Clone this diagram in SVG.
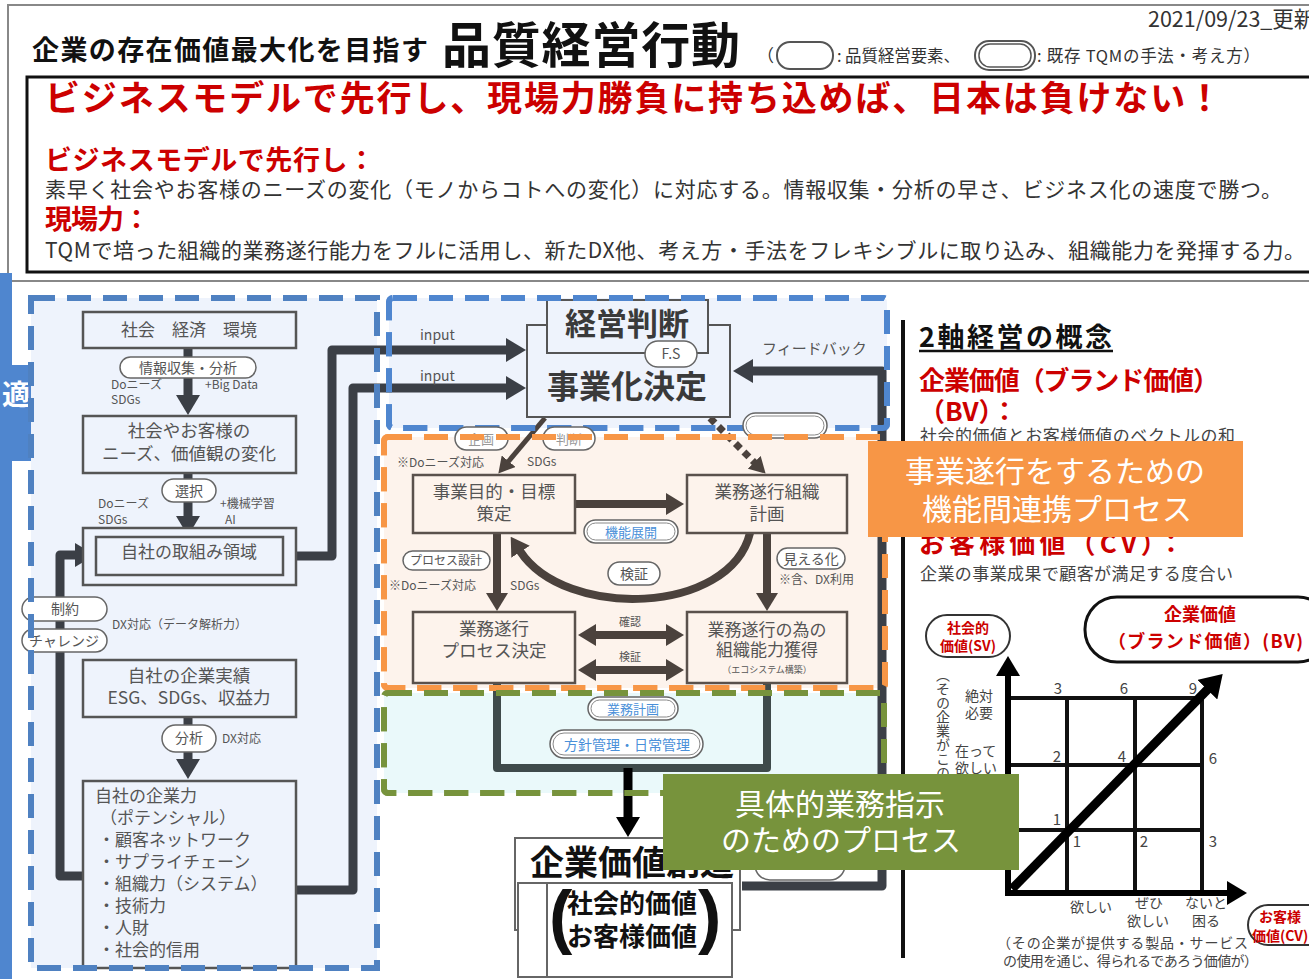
<svg xmlns="http://www.w3.org/2000/svg" width="1309" height="979" viewBox="0 0 1309 979">
<style>
text{font-family:"Noto Sans CJK JP","Noto Sans",sans-serif}
.g{fill:#555}
.c{text-anchor:middle}
.red{fill:#cc0000;font-weight:bold}
.bx{fill:#eef3fc;stroke:#555;stroke-width:2.5}
.ob{fill:#fdf3ec;stroke:#5a514c;stroke-width:2.5}
.pill{fill:#fff;stroke:#666;stroke-width:1.5}
.dl{fill:none;stroke:#3b3f46;stroke-width:9;stroke-linejoin:round}
.br{fill:none;stroke:#4b423d;stroke-width:8;stroke-linejoin:round}
.bk{fill:none;stroke:#000;stroke-width:6}
.grid{stroke:#111;stroke-width:4}
.blue{fill:#4a90d9}
.wt{fill:#fff;font-size:30px;text-anchor:middle}
</style>
<defs>
<marker id="mL" viewBox="0 0 20 24" refX="1" refY="12" markerWidth="20" markerHeight="24" markerUnits="userSpaceOnUse" orient="auto"><path d="M0,0 L20,12 L0,24z" fill="#3b3f46"/></marker>
<marker id="mB" viewBox="0 0 18 22" refX="1" refY="11" markerWidth="18" markerHeight="22" markerUnits="userSpaceOnUse" orient="auto-start-reverse"><path d="M0,0 L18,11 L0,22z" fill="#4b423d"/></marker>
<marker id="mBs" viewBox="0 0 16 18" refX="1" refY="9" markerWidth="16" markerHeight="18" markerUnits="userSpaceOnUse" orient="auto"><path d="M0,0 L16,9 L0,18z" fill="#4b423d"/></marker>
<marker id="mK" viewBox="0 0 20 24" refX="1" refY="12" markerWidth="20" markerHeight="24" markerUnits="userSpaceOnUse" orient="auto"><path d="M0,0 L20,12 L0,24z" fill="#000"/></marker>
<marker id="mKd" viewBox="0 0 22 28" refX="1" refY="14" markerWidth="22" markerHeight="28" markerUnits="userSpaceOnUse" orient="auto"><path d="M0,0 L22,14 L0,28z" fill="#000"/></marker>
<marker id="mS" viewBox="0 0 10 12" refX="1" refY="6" markerWidth="10" markerHeight="12" markerUnits="userSpaceOnUse" orient="auto"><path d="M0,0 L10,6 L0,12z" fill="#3b3f46"/></marker>
</defs>
<rect width="1309" height="979" fill="#fff"/>

<!-- header -->
<g id="header">
<rect x="8" y="5" width="1310" height="276" fill="#fff" stroke="#888" stroke-width="2"/>
<text x="32" y="60" font-size="27" font-weight="bold" fill="#111" textLength="396">企業の存在価値最大化を目指す</text>
<text x="442" y="63" font-size="49" font-weight="bold" fill="#111" textLength="298">品質経営行動</text>
<text x="757" y="62" font-size="17" fill="#333">（</text>
<rect x="777" y="42" width="56" height="27" rx="13" fill="#fff" stroke="#555" stroke-width="2"/>
<text x="837" y="62" font-size="16.5" fill="#333" textLength="123">: 品質経営要素、</text>
<rect x="975" y="41" width="60" height="29" rx="14" fill="#fff" stroke="#555" stroke-width="2"/>
<rect x="979" y="44" width="52" height="23" rx="11" fill="none" stroke="#555" stroke-width="1.5"/>
<text x="1037" y="62" font-size="16.5" fill="#333" textLength="223">: 既存 TQMの手法・考え方）</text>
<text x="1148" y="27" font-size="21.5" fill="#333">2021/09/23_更新</text>
</g>

<g id="message">
<rect x="27" y="77" width="1290" height="195" fill="#fff" stroke="#111" stroke-width="3"/>
<text x="45" y="111" font-size="35" class="red" textLength="1177">ビジネスモデルで先行し、現場力勝負に持ち込めば、日本は負けない！</text>
<text x="45" y="170" font-size="27" class="red" textLength="330">ビジネスモデルで先行し：</text>
<text x="45" y="197" font-size="21" fill="#333" textLength="1237">素早く社会やお客様のニーズの変化（モノからコトへの変化）に対応する。情報収集・分析の早さ、ビジネス化の速度で勝つ。</text>
<text x="45" y="229" font-size="27" class="red" textLength="105">現場力：</text>
<text x="45" y="258" font-size="21" fill="#333" textLength="1260">TQMで培った組織的業務遂行能力をフルに活用し、新たDX他、考え方・手法をフレキシブルに取り込み、組織能力を発揮する力。</text>
</g>

<!-- left tab -->
<g id="tab">
<rect x="0" y="273" width="12" height="706" fill="#4f86cf"/>
<rect x="0" y="365" width="89" height="96" fill="#4f86cf"/>
<text x="2" y="405" font-size="28" font-weight="bold" fill="#fff">適</text>
</g>

<!-- regions -->
<g id="regions">
<rect x="31" y="298" width="346" height="670" fill="#eef3fc" stroke="#4f81c1" stroke-width="6" stroke-dasharray="24 12"/>
<rect x="389" y="298" width="498" height="130" rx="4" fill="#eef3fc" stroke="#4f86cf" stroke-width="6" stroke-dasharray="24 12"/>
<rect x="384" y="437" width="501" height="251" rx="4" fill="#fdf3ec" stroke="#f79646" stroke-width="6" stroke-dasharray="24 12"/>
<rect x="384" y="693" width="500" height="100" rx="4" fill="#eaf9fa" stroke="#77933c" stroke-width="6" stroke-dasharray="24 12"/>
</g>

<!-- connectors -->
<g id="connectors">
<path class="dl" d="M188,348 V396" marker-end="url(#mL)"/>
<path class="dl" d="M188,473 V517" marker-end="url(#mL)"/>
<path class="dl" d="M296,556 H332 V350 H507" marker-end="url(#mL)"/>
<path class="dl" d="M296,890 H353 V388 H507" marker-end="url(#mL)"/>
<path class="dl" d="M83,876 H60 V555 H76" marker-end="url(#mL)"/>
<path class="dl" d="M188,717 V760" marker-end="url(#mL)"/>
<path class="dl" d="M742,886 H882 V371 H752" marker-end="url(#mL)"/>
<path fill="none" stroke="#3b3f46" stroke-width="4" d="M627,353 V362" marker-end="url(#mS)"/>
<path fill="none" stroke="#4b423d" stroke-width="5" d="M545,418 L508,462" marker-end="url(#mBs)"/>
<path fill="none" stroke="#4b423d" stroke-width="7" stroke-dasharray="7 5" d="M710,418 L755,463" marker-end="url(#mBs)"/>
<path class="br" d="M575,504 H667" marker-end="url(#mB)"/>
<path class="br" d="M750,533 C730,615 565,620 520,551" marker-end="url(#mB)"/>
<path class="br" d="M497,533 V594" marker-end="url(#mB)"/>
<path class="br" d="M767,533 V594" marker-end="url(#mB)"/>
<path class="br" stroke-width="7" d="M595,635 H667" marker-start="url(#mB)" marker-end="url(#mB)"/>
<path class="br" stroke-width="7" d="M595,670 H667" marker-start="url(#mB)" marker-end="url(#mB)"/>
<path fill="none" stroke="#3f4b4b" stroke-width="8" stroke-linejoin="round" d="M497,683 V768 H767 V683"/>
<path fill="none" stroke="#000" stroke-width="9" d="M628,768 V818" marker-end="url(#mK)"/>
</g>

<!-- left column nodes -->
<g id="n-env">
<rect class="bx" x="83" y="312" width="213" height="36"/>
<text class="g c" x="189" y="336" font-size="17">社会　経済　環境</text>
</g>
<g id="p-info">
<rect class="pill" x="120" y="357" width="136" height="21" rx="10.5"/>
<text class="g c" x="188" y="373" font-size="14">情報収集・分析</text>
<text class="g" x="111" y="389" font-size="12">Doニーズ</text>
<text class="g" x="111" y="404" font-size="12">SDGs</text>
<text class="g" x="205" y="389" font-size="12">+Big Data</text>
</g>
<g id="n-needs">
<rect class="bx" x="83" y="416" width="213" height="57"/>
<text class="g c" x="189" y="437" font-size="17.5">社会やお客様の</text>
<text class="g c" x="189" y="460" font-size="17.5">ニーズ、価値観の変化</text>
</g>
<g id="p-select">
<rect class="pill" x="162" y="479" width="54" height="23" rx="11.5"/>
<text class="g c" x="189" y="496" font-size="14">選択</text>
<text class="g" x="98" y="508" font-size="12">Doニーズ</text>
<text class="g" x="98" y="524" font-size="12">SDGs</text>
<text class="g" x="220" y="508" font-size="12">+機械学習</text>
<text class="g" x="225" y="524" font-size="12">AI</text>
</g>
<g id="n-area">
<rect class="bx" x="83" y="528" width="213" height="57"/>
<rect class="bx" x="96" y="537" width="187" height="38"/>
<text class="g c" x="189" y="558" font-size="17">自社の取組み領域</text>
</g>
<g id="p-limit">
<rect class="pill" x="22" y="597" width="85" height="24" rx="12"/>
<text class="g c" x="65" y="614" font-size="14">制約</text>
<rect class="pill" x="22" y="629" width="85" height="23" rx="11.5"/>
<text class="g c" x="64" y="646" font-size="14">チャレンジ</text>
<text class="g" x="112" y="629" font-size="12">DX対応（データ解析力）</text>
</g>
<g id="n-result">
<rect class="bx" x="83" y="660" width="213" height="57"/>
<text class="g c" x="189" y="682" font-size="17.5">自社の企業実績</text>
<text class="g c" x="189" y="704" font-size="17.5">ESG、SDGs、収益力</text>
</g>
<g id="p-analyze">
<rect class="pill" x="162" y="725" width="54" height="27" rx="13.5"/>
<text class="g c" x="189" y="743" font-size="14">分析</text>
<text class="g" x="222" y="743" font-size="12">DX対応</text>
</g>
<g id="n-power">
<rect class="bx" x="83" y="781" width="213" height="187"/>
<text class="g" x="95" y="802" font-size="17">自社の企業力</text>
<text class="g" x="100" y="824" font-size="17">（ポテンシャル）</text>
<text class="g" x="98" y="846" font-size="17">・顧客ネットワーク</text>
<text class="g" x="98" y="868" font-size="17">・サプライチェーン</text>
<text class="g" x="98" y="890" font-size="17">・組織力（システム）</text>
<text class="g" x="98" y="912" font-size="17">・技術力</text>
<text class="g" x="98" y="934" font-size="17">・人財</text>
<text class="g" x="98" y="956" font-size="17">・社会的信用</text>
</g>
<rect x="31" y="298" width="346" height="670" fill="none" stroke="#4f81c1" stroke-width="6" stroke-dasharray="24 12"/>

<!-- center top -->
<g id="n-decide">
<text class="g" x="420" y="340" font-size="14">input</text>
<text class="g" x="420" y="381" font-size="14">input</text>
<rect x="527" y="325" width="203" height="92" fill="#eef3fc" stroke="#555" stroke-width="2"/>
<rect x="547" y="300" width="161" height="53" fill="#eef3fc" stroke="#555" stroke-width="2"/>
<text class="c" x="627" y="335" font-size="31" font-weight="bold" fill="#3a3a3a">経営判断</text>
<text class="c" x="627" y="398" font-size="32" font-weight="bold" fill="#3a3a3a">事業化決定</text>
<rect class="pill" x="645" y="341" width="52" height="26" rx="13"/>
<text class="g c" x="671" y="359" font-size="14">F.S</text>
<text class="g" x="762" y="354" font-size="15">フィードバック</text>
</g>
<rect x="389" y="298" width="498" height="130" rx="4" fill="none" stroke="#4f86cf" stroke-width="6" stroke-dasharray="24 12"/>
<g id="p-top">
<rect class="pill" x="455" y="427" width="53" height="23" rx="11.5" fill="#fdf3ec"/>
<text class="c" x="481" y="444" font-size="13" fill="#999">企画</text>
<rect class="pill" x="543" y="427" width="52" height="23" rx="11.5" fill="#fdf3ec"/>
<text class="c" x="569" y="444" font-size="13" fill="#999">判断</text>
<rect class="pill" x="743" y="413" width="84" height="25" rx="12.5" fill="#fdf3ec"/>
<rect x="746" y="416" width="78" height="19" rx="9.5" fill="none" stroke="#888" stroke-width="1"/>
<text class="g" x="397" y="467" font-size="12">※Doニーズ対応</text>
<text class="g" x="527" y="466" font-size="12">SDGs</text>
</g>
<rect x="384" y="437" width="501" height="251" rx="4" fill="none" stroke="#f79646" stroke-width="6" stroke-dasharray="24 12"/>

<!-- orange region nodes -->
<g id="n-purpose">
<rect class="ob" x="413" y="475" width="162" height="58"/>
<text class="g c" x="494" y="498" font-size="17.5">事業目的・目標</text>
<text class="g c" x="494" y="520" font-size="17.5">策定</text>
</g>
<g id="n-org">
<rect class="ob" x="687" y="475" width="160" height="58"/>
<text class="g c" x="767" y="498" font-size="17.5">業務遂行組織</text>
<text class="g c" x="767" y="520" font-size="17.5">計画</text>
</g>
<g id="n-process">
<rect class="ob" x="413" y="612" width="162" height="71"/>
<text class="g c" x="494" y="635" font-size="17.5">業務遂行</text>
<text class="g c" x="494" y="657" font-size="17.5">プロセス決定</text>
</g>
<g id="n-capability">
<rect class="ob" x="687" y="612" width="160" height="71"/>
<text class="g c" x="767" y="636" font-size="17">業務遂行の為の</text>
<text class="g c" x="767" y="656" font-size="17">組織能力獲得</text>
<text class="g c" x="767" y="673" font-size="9">（エコシステム構築）</text>
</g>
<g id="p-orange">
<rect class="pill" x="584" y="520" width="94" height="23" rx="11.5"/>
<rect x="587" y="523" width="88" height="17" rx="8.5" fill="none" stroke="#888" stroke-width="1"/>
<text class="blue c" x="631" y="537" font-size="13">機能展開</text>
<rect class="pill" x="608" y="562" width="52" height="23" rx="11.5" fill="#fdf3ec"/>
<text class="g c" x="634" y="579" font-size="14">検証</text>
<rect class="pill" x="403" y="551" width="87" height="19" rx="9.5" fill="#fdf3ec"/>
<text class="g c" x="446" y="565" font-size="12">プロセス設計</text>
<text class="g" x="389" y="590" font-size="12">※Doニーズ対応</text>
<text class="g" x="510" y="590" font-size="12">SDGs</text>
<rect class="pill" x="777" y="548" width="68" height="21" rx="10.5" fill="#fdf3ec"/>
<text class="g c" x="811" y="564" font-size="14">見える化</text>
<text class="g" x="779" y="584" font-size="12">※含、DX利用</text>
<text class="g c" x="630" y="626" font-size="11">確認</text>
<text class="g c" x="630" y="661" font-size="11">検証</text>
</g>

<!-- green region -->
<g id="p-green">
<rect class="pill" x="588" y="697" width="90" height="23" rx="11.5"/>
<rect x="591" y="700" width="84" height="17" rx="8.5" fill="none" stroke="#888" stroke-width="1"/>
<text class="blue c" x="633" y="714" font-size="13">業務計画</text>
<rect class="pill" x="550" y="730" width="153" height="28" rx="14"/>
<rect x="553" y="733" width="147" height="22" rx="11" fill="none" stroke="#888" stroke-width="1"/>
<text class="blue c" x="627" y="750" font-size="14">方針管理・日常管理</text>
</g>
<rect x="384" y="693" width="500" height="100" rx="4" fill="none" stroke="#77933c" stroke-width="6" stroke-dasharray="24 12"/>

<!-- value node -->
<g id="n-value">
<rect class="pill" x="755" y="850" width="90" height="30" rx="15"/>
<rect x="515" y="838" width="225" height="92" fill="#fff" stroke="#666" stroke-width="2"/>
<text x="530" y="875" font-size="34" font-weight="bold" fill="#111">企業価値創造</text>
<rect x="518" y="883" width="214" height="94" fill="#fff" stroke="#666" stroke-width="2"/>
<line x1="547" y1="883" x2="547" y2="977" stroke="#666" stroke-width="2"/>
<text x="549" y="940" font-size="70" font-weight="bold" fill="#111" style="font-family:'Liberation Sans',sans-serif">(</text>
<text x="698" y="940" font-size="70" font-weight="bold" fill="#111" style="font-family:'Liberation Sans',sans-serif">)</text>
<text x="567" y="913" font-size="26" font-weight="bold" fill="#111">社会的価値</text>
<text x="567" y="946" font-size="26" font-weight="bold" fill="#111">お客様価値</text>
</g>

<!-- right: concept -->
<g id="concept">
<line x1="903" y1="320" x2="903" y2="958" stroke="#111" stroke-width="4"/>
<text x="919" y="347" font-size="27" font-weight="bold" fill="#111" textLength="193">2軸経営の概念</text>
<line x1="919" y1="351" x2="1113" y2="351" stroke="#111" stroke-width="2.5"/>
<text x="919" y="390" font-size="26" class="red" textLength="300">企業価値（ブランド価値）</text>
<text x="919" y="421" font-size="26" class="red">（BV）：</text>
<text x="920" y="442" font-size="17" fill="#444" textLength="315">社会的価値とお客様価値のベクトルの和</text>
<text x="919" y="553" font-size="26" class="red" textLength="265">お客様価値（CV）：</text>
<text x="920" y="580" font-size="17" fill="#444" textLength="313">企業の事業成果で顧客が満足する度合い</text>
</g>

<!-- chart -->
<g id="chart">
<line class="grid" x1="1067" y1="698" x2="1067" y2="893"/>
<line class="grid" x1="1135" y1="698" x2="1135" y2="893"/>
<line class="grid" x1="1202" y1="698" x2="1202" y2="893"/>
<line class="grid" x1="1008" y1="698" x2="1202" y2="698"/>
<line class="grid" x1="1008" y1="765" x2="1202" y2="765"/>
<line class="grid" x1="1008" y1="830" x2="1202" y2="830"/>
<path class="bk" d="M1008,896 V675" marker-end="url(#mK)"/>
<path class="bk" d="M1005,893 H1228" marker-end="url(#mK)"/>
<path fill="none" stroke="#000" stroke-width="9" d="M1012,889 L1208,689" marker-end="url(#mKd)"/>
<g font-size="15" fill="#444" text-anchor="middle">
<text x="1058" y="694">3</text><text x="1124" y="694">6</text><text x="1193" y="694">9</text>
<text x="1057" y="762">2</text><text x="1122" y="762">4</text><text x="1213" y="764">6</text>
<text x="1057" y="825">1</text><text x="1077" y="847">1</text><text x="1144" y="847">2</text><text x="1213" y="847">3</text>
</g>
<g font-size="14" fill="#444">
<text x="965" y="701">絶対</text><text x="965" y="718">必要</text>
<text x="955" y="756">在って</text><text x="955" y="773">欲しい</text>
<text x="943" y="668" writing-mode="tb">（その企業がこの</text>
<text x="1070" y="912">欲しい</text>
<text x="1135" y="908">ぜひ</text><text x="1127" y="926">欲しい</text>
<text x="1185" y="908">ないと</text><text x="1192" y="926">困る</text>
<text x="997" y="948" textLength="251">（その企業が提供する製品・サービス</text>
<text x="1003" y="966" textLength="255">の使用を通じ、得られるであろう価値が）</text>
</g>
<rect x="926" y="615" width="84" height="42" rx="21" fill="#fff" stroke="#333" stroke-width="2"/>
<text class="red c" x="968" y="633" font-size="14">社会的</text>
<text class="red c" x="968" y="651" font-size="14">価値(SV)</text>
<rect x="1085" y="597" width="245" height="65" rx="32" fill="#fff" stroke="#111" stroke-width="3"/>
<text class="red c" x="1200" y="621" font-size="18">企業価値</text>
<text class="red" x="1108" y="648" font-size="18" textLength="195">（ブランド価値）(BV)</text>
<rect x="1248" y="905" width="80" height="40" rx="20" fill="#fff" stroke="#333" stroke-width="2"/>
<text class="red" x="1259" y="922" font-size="14">お客様</text>
<text class="red" x="1252" y="941" font-size="14">価値(CV)</text>
</g>

<!-- overlay labels -->
<g id="label-orange">
<rect x="868" y="441" width="375" height="96" fill="#f79646"/>
<text class="wt" x="1055" y="482" font-size="29.5">事業遂行をするための</text>
<text class="wt" x="1057" y="520" font-size="29.5">機能間連携プロセス</text>
</g>
<g id="label-green">
<rect x="663" y="774" width="356" height="96" fill="#77933c"/>
<text class="wt" x="840" y="815">具体的業務指示</text>
<text class="wt" x="841" y="851">のためのプロセス</text>
</g>
</svg>
